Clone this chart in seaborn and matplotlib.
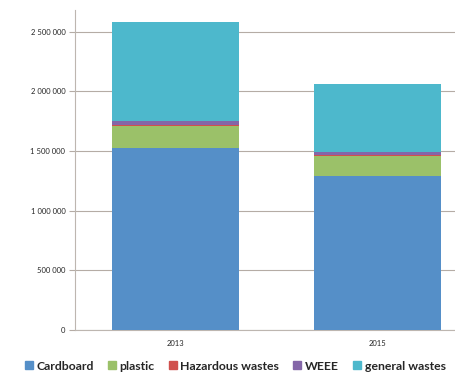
import matplotlib
matplotlib.use("Agg")
import matplotlib.pyplot as plt
import matplotlib.patches as mpatches
import seaborn as sns
import pandas as pd
import numpy as np

years = ["2013", "2015"]
categories = ["Cardboard", "plastic", "Hazardous wastes", "WEEE", "general wastes"]
cardboard = [1523000, 1293000]
plastic = [187000, 166000]
hazardous = [10000, 8000]
weee = [32000, 28000]
general = [832000, 567000]
colors = ["#558FC8", "#9BC169", "#D0504D", "#8466A8", "#4DB8CC"]
yticks = [0, 500000, 1000000, 1500000, 2000000, 2500000]
ytick_labels = ["0", "500 000", "1 000 000", "1 500 000", "2 000 000", "2 500 000"]

sns.set_style("white")
plt.rcParams["font.family"] = ["Lato", "DejaVu Sans"]

series = [cardboard, plastic, hazardous, weee, general]
cum = np.cumsum(np.array(series), axis=0)

fig = plt.figure(figsize=(4.56, 3.79), dpi=100)
ax = fig.add_axes([75/456, 1-330/379, 403/456, 320/379])

# draw from top layer down so stacked appearance results
for i in range(len(categories) - 1, -1, -1):
    df = pd.DataFrame({"year": years, "value": cum[i]})
    sns.barplot(data=df, x="year", y="value", color=colors[i], width=0.63,
                saturation=1, ax=ax, zorder=3, linewidth=0)

ax.set_ylim(0, 2682000)
ax.set_yticks(yticks)
ax.set_yticklabels(ytick_labels, fontsize=5.5)
ax.set_xlabel("")
ax.set_ylabel("")
ax.tick_params(axis="x", labelsize=5.5, length=0, pad=7)
ax.tick_params(axis="y", length=4, color="#b5aca5", width=0.8, pad=3, left=True)
ax.yaxis.grid(True, color="#b5aca5", linewidth=0.8, zorder=0)
ax.set_axisbelow(True)
for s in ["top", "right"]:
    ax.spines[s].set_visible(False)
ax.spines["left"].set_color("#bdb6b0")
ax.spines["bottom"].set_color("#bdb6b0")
ax.spines["left"].set_linewidth(0.8)
ax.spines["bottom"].set_linewidth(0.8)

handles = [mpatches.Patch(color=c, label=l) for c, l in zip(colors, categories)]
fig.legend(handles=handles, loc="center left", bbox_to_anchor=(25/456, 1-366/379),
           ncol=5, frameon=False, handlelength=0.65, handleheight=0.65,
           handletextpad=0.3, columnspacing=1.15, borderaxespad=0, borderpad=0,
           prop={"family": "Lato", "weight": "bold", "size": 8.8})

fig.savefig("out.png", dpi=100)
